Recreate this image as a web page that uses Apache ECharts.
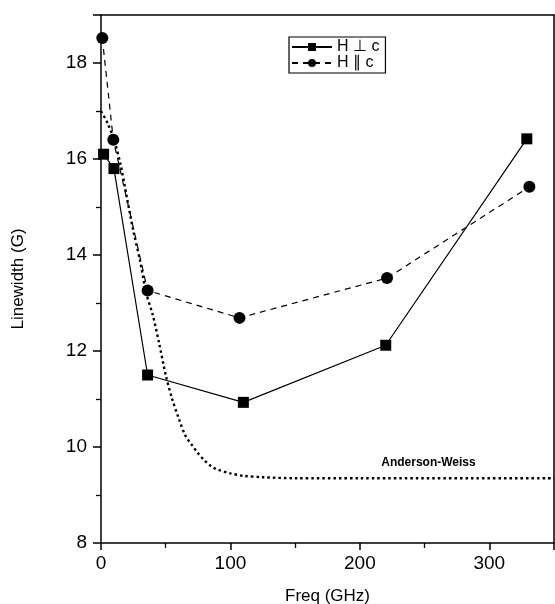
<!DOCTYPE html>
<html><head><meta charset="utf-8">
<script src="https://cdn.jsdelivr.net/npm/echarts@6/dist/echarts.min.js"></script>
<style>html,body{margin:0;padding:0;background:#fff}#c{width:555px;height:604px}</style>
</head><body><div id="c"></div>
<script>
var perpFreq = [2, 10, 36, 110, 220, 329];
var perpWidth = [16.1, 15.8, 11.5, 10.93, 12.12, 16.42];
var parFreq = [1, 9.5, 36, 107, 221, 331];
var parWidth = [18.52, 16.4, 13.26, 12.69, 13.52, 15.42];
var awFreq = [0, 5, 10, 15, 20, 25, 30, 35, 40, 45, 50, 55, 60, 65, 70, 75, 80, 85, 90, 100, 110, 125, 150, 200, 350];
var awWidth = [17.0, 16.75, 16.4, 15.9, 15.2, 14.5, 13.9, 13.2, 12.75, 12.15, 11.5, 11.0, 10.6, 10.25, 10.05, 9.87, 9.72, 9.6, 9.53, 9.45, 9.4, 9.37, 9.35, 9.35, 9.35];
var xTicks = [0, 100, 200, 300];
var yTicks = [8, 10, 12, 14, 16, 18];
function pairs(a, b) { return a.map(function (v, i) { return [v, b[i]]; }); }
var font = 'Liberation Sans, Arial, sans-serif';
var chart = echarts.init(document.getElementById('c'), null, { renderer: 'canvas' });
chart.setOption({
  animation: false,
  backgroundColor: '#fff',
  grid: { left: 101, right: 1, top: 15, bottom: 61, containLabel: false, outerBoundsMode: 'none' },
  legend: {
    left: 289, top: 37, orient: 'vertical',
    itemWidth: 40, itemHeight: 10, itemGap: 0,
    padding: [2, 6, 2, 2],
    borderColor: '#000', borderWidth: 1.2,
    textStyle: { fontFamily: font, fontSize: 16, lineHeight: 16, color: '#000' },
    data: ['H \u22a5 c', 'H \u2225 c']
  },
  xAxis: [{
    type: 'value', min: 0, max: 350, interval: 100,
    name: 'Freq (GHz)', nameLocation: 'middle', nameGap: 45,
    nameTextStyle: { fontFamily: font, fontSize: 17, color: '#000' },
    axisLine: { onZero: false, lineStyle: { color: '#000', width: 1.5 } },
    axisTick: { inside: false, length: 7, lineStyle: { color: '#000', width: 1.5 } },
    minorTick: { show: true, splitNumber: 2, length: 5, lineStyle: { color: '#000', width: 1.3 } },
    axisLabel: { fontFamily: font, fontSize: 19, color: '#000', margin: 11,
      formatter: function (v) { return xTicks.indexOf(v) >= 0 ? String(v) : ''; } },
    splitLine: { show: false }
  }, {
    type: 'value', min: 0, max: 350, position: 'top',
    axisLine: { onZero: false, lineStyle: { color: '#000', width: 1.5 } },
    axisTick: { show: false }, axisLabel: { show: false }, splitLine: { show: false }
  }],
  yAxis: [{
    type: 'value', min: 8, max: 19, interval: 2,
    name: 'Linewidth (G)', nameLocation: 'middle', nameGap: 74, nameRotate: 90,
    nameTextStyle: { fontFamily: font, fontSize: 17, color: '#000' },
    axisLine: { onZero: false, show: true, lineStyle: { color: '#000', width: 1.5 } },
    axisTick: { inside: false, length: 8, lineStyle: { color: '#000', width: 1.5 } },
    minorTick: { show: true, splitNumber: 2, length: 5, lineStyle: { color: '#000', width: 1.3 } },
    axisLabel: { fontFamily: font, fontSize: 19, color: '#000', margin: 14,
      formatter: function (v) { return yTicks.indexOf(v) >= 0 ? String(v) : ''; } },
    splitLine: { show: false }
  }, {
    type: 'value', min: 8, max: 19, position: 'right',
    axisLine: { onZero: false, show: true, lineStyle: { color: '#000', width: 1.5 } },
    axisTick: { show: false }, axisLabel: { show: false }, splitLine: { show: false }
  }],
  series: [{
    name: 'Anderson-Weiss', type: 'line', data: pairs(awFreq, awWidth), smooth: 0.3,
    showSymbol: false, symbol: 'none', silent: true,
    lineStyle: { color: '#000', width: 2.4, type: [2.5, 3] },
    markPoint: {
      symbol: 'rect', symbolSize: 0,
      label: { show: true, formatter: 'Anderson-Weiss', fontFamily: font, fontSize: 12, fontWeight: 'bold', color: '#000', position: 'inside' },
      data: [{ coord: [253, 9.68] }]
    }
  }, {
    name: 'H \u22a5 c', type: 'line', data: pairs(perpFreq, perpWidth),
    symbol: 'rect', symbolSize: 11, itemStyle: { color: '#000' },
    lineStyle: { color: '#000', width: 1.2, type: 'solid' }
  }, {
    name: 'H \u2225 c', type: 'line', data: pairs(parFreq, parWidth),
    symbol: 'circle', symbolSize: 12, itemStyle: { color: '#000' },
    lineStyle: { color: '#000', width: 1.2, type: [6, 5] }
  }]
});
</script></body></html>
